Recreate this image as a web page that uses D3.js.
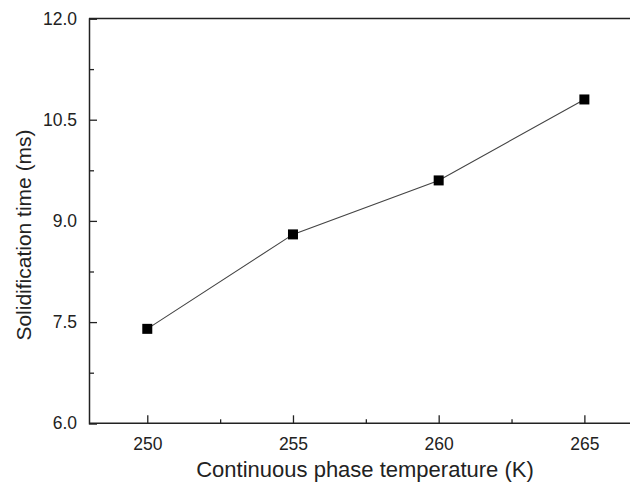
<!DOCTYPE html>
<html><head><meta charset="utf-8">
<script src="https://cdn.jsdelivr.net/npm/d3@7"></script>
<style>body{margin:0;background:#fff}svg{display:block}text{font-family:Arial,"Liberation Sans",sans-serif;fill:#222}</style>
</head><body><div id="chart"></div>
<script>
const temps = [250, 255, 260, 265];
const times = [7.4, 8.8, 9.6, 10.8];
const xTicks = [250, 255, 260, 265];
const xMinor = [252.5, 257.5, 262.5];
const yTicks = [6.0, 7.5, 9.0, 10.5, 12.0];
const yMinor = [6.75, 8.25, 9.75, 11.25];

const W = 630, H = 487;
const mLeft = 89, mTop = 18.5, mBottom = 423.3;
const svg = d3.select("#chart").append("svg").attr("width", W).attr("height", H);
const x = d3.scaleLinear().domain([248, 267]).range([mLeft, mLeft + (19 * 145.7 / 5)]);
const y = d3.scaleLinear().domain([6, 12]).range([mBottom, mTop]);

// frame top line
svg.append("line").attr("x1", mLeft).attr("x2", x(267)).attr("y1", mTop).attr("y2", mTop).attr("stroke", "#222").attr("stroke-width", 1.5);

const xa = svg.append("g").attr("transform", `translate(0,${mBottom})`)
  .call(d3.axisBottom(x).tickValues(xTicks).tickSize(-8).tickPadding(14).tickFormat(d3.format("d")));
const xm = svg.append("g").attr("transform", `translate(0,${mBottom})`)
  .call(d3.axisBottom(x).tickValues(xMinor).tickSize(-4).tickFormat(""));
const ya = svg.append("g").attr("transform", `translate(${mLeft},0)`)
  .call(d3.axisLeft(y).tickValues(yTicks).tickSize(-8).tickPadding(12).tickFormat(d3.format(".1f")));
const ym = svg.append("g").attr("transform", `translate(${mLeft},0)`)
  .call(d3.axisLeft(y).tickValues(yMinor).tickSize(-5).tickFormat(""));
[xa, xm, ya, ym].forEach(g => {
  g.select(".domain").attr("stroke", "#222").attr("stroke-width", 1.5);
  g.selectAll(".tick line").attr("stroke", "#222").attr("stroke-width", 1.3);
  g.selectAll("text").attr("font-size", 17.5).attr("fill", "#222");
});
xa.select(".domain").attr("d", `M${mLeft},0H${x(267)}`);
xm.select(".domain").remove();
ym.select(".domain").remove();

const pts = temps.map((t, i) => [t, times[i]]);
svg.append("path").datum(pts)
  .attr("d", d3.line().x(d => x(d[0])).y(d => y(d[1])))
  .attr("fill", "none").attr("stroke", "#444").attr("stroke-width", 1.1);
svg.selectAll("rect.pt").data(pts).enter().append("rect").attr("class", "pt")
  .attr("x", d => x(d[0]) - 5).attr("y", d => y(d[1]) - 5)
  .attr("width", 10).attr("height", 10).attr("fill", "#000");

svg.append("text").attr("x", 365).attr("y", 477).attr("text-anchor", "middle")
  .attr("font-size", 22).text("Continuous phase temperature (K)");
svg.append("text").attr("transform", "translate(31,235) rotate(-90)").attr("text-anchor", "middle")
  .attr("font-size", 21).text("Solidification time (ms)");
</script></body></html>
